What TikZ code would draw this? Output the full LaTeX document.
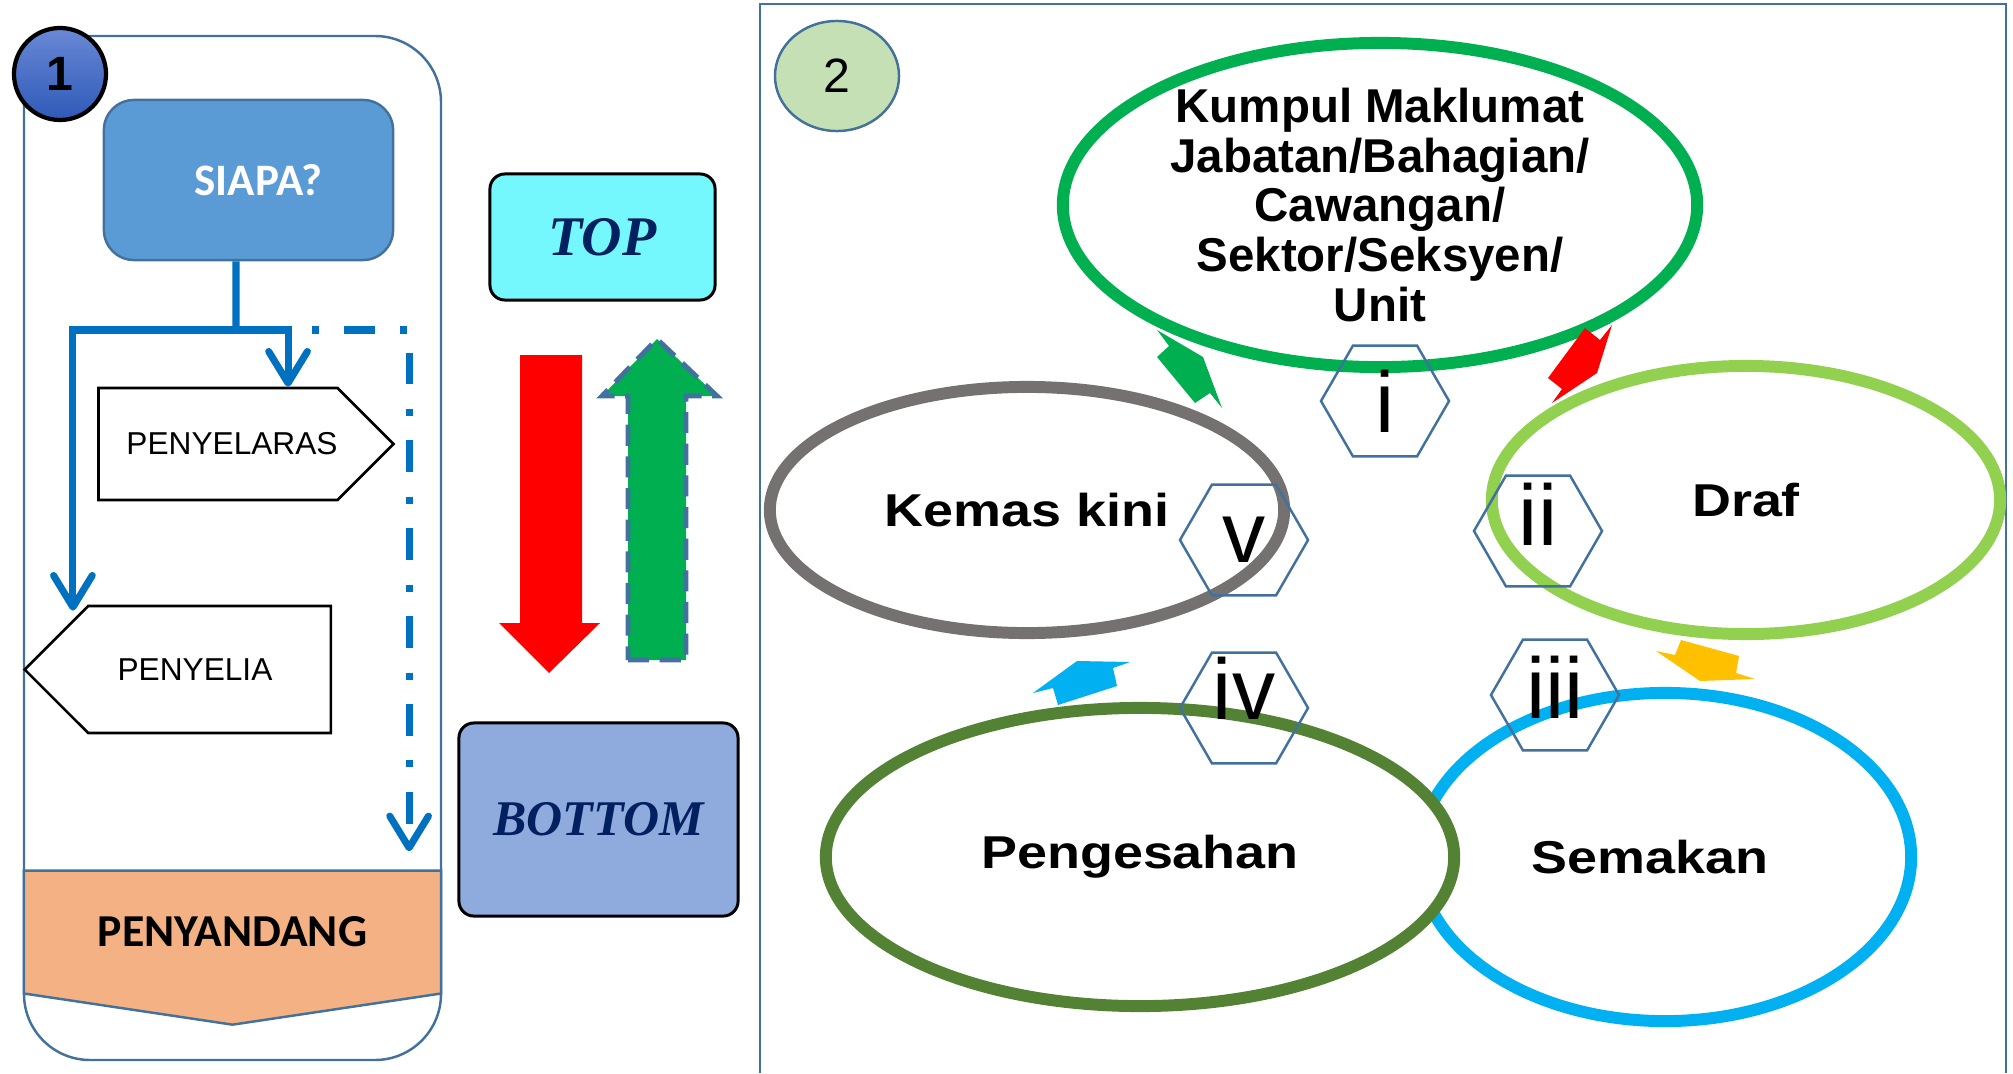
\documentclass[tikz,border=0pt]{standalone}
\usepackage{fontspec}
\setmainfont{Liberation Sans}
\newfontfamily\calibri{Carlito}
\newfontfamily\widesans[FakeStretch=1.17]{Liberation Sans}
\newfontfamily\fancyserif{Liberation Serif}
\usepackage{tikz}
\usetikzlibrary{arrows.meta, positioning, shapes.geometric, shapes.symbols}
\usepackage{xcolor}

\definecolor{frameblue}{HTML}{41719C}
\definecolor{boxblue}{HTML}{5B9BD5}
\definecolor{linkblue}{HTML}{0070C0}
\definecolor{peach}{HTML}{F4B183}
\definecolor{topcyan}{HTML}{75F8FD}
\definecolor{bottomblue}{HTML}{8FAADC}
\definecolor{darknavy}{HTML}{002060}
\definecolor{mygreen}{HTML}{00B050}
\definecolor{lightgreen}{HTML}{92D050}
\definecolor{darkgreen}{HTML}{548235}
\definecolor{skyblue}{HTML}{00B0F0}
\definecolor{greyring}{HTML}{767171}
\definecolor{amber}{HTML}{FFC000}
\definecolor{palegreen}{HTML}{C5E0B4}
\definecolor{badgetop}{HTML}{6A88D6}
\definecolor{badgebottom}{HTML}{2E5AB7}

\begin{document}
\begin{tikzpicture}[x=0.01cm, y=-0.01cm,
    link/.style={draw=linkblue, line width=2pt},
    barb/.style={-{Straight Barb[length=9pt,width=11pt,round]}},
    ring/.style={ellipse, line width=3.4pt, fill=white, inner sep=0pt, font=\widesans\bfseries\fontsize{13.1}{14}\selectfont},
    hexa/.style={regular polygon, regular polygon sides=6, draw=frameblue, line width=0.7pt, minimum size=1.28cm, inner sep=0pt, font=\fontsize{24.5}{26}\selectfont},
    role/.style={signal, draw=black, line width=0.75pt, inner sep=0pt, signal pointer angle=90, font=\fontsize{9}{10}\selectfont},
    levelbox/.style={draw=black, line width=0.85pt, rounded corners=0.15cm, inner sep=0pt, text=darknavy, font=\fancyserif\bfseries\itshape\fontsize{14.2}{15}\selectfont}]
    \useasboundingbox (0,0) rectangle (2013,1073);

    % panel 1
    \draw[frameblue, line width=0.7pt, rounded corners=0.66cm] (24,36) rectangle (441,1060);
    \node[signal, signal to=south, signal pointer angle=163, fill=peach, draw=frameblue, line width=0.7pt, minimum width=4.17cm, minimum height=1.43cm, inner sep=0pt, font=\calibri\bfseries\fontsize{13}{14}\selectfont] (penyandang) at (232.5,932) {PENYANDANG};
    \node[rectangle, rounded corners=0.3cm, fill=boxblue, draw=frameblue, line width=0.7pt, minimum width=2.89cm, minimum height=1.6cm, text=white, font=\calibri\bfseries\fontsize{12.8}{14}\selectfont] (siapa) at (248.5,180) {\hspace*{0.2cm}SIAPA?};
    \node[role, signal to=east, minimum width=2.84cm, minimum height=1.12cm] (penyelaras) at (218,444) {\hspace*{0.28cm}PENYELARAS};
    \node[role, signal to=west, minimum width=3.06cm, minimum height=1.27cm] (penyelia) at (209.5,669.5) {\hspace*{-0.29cm}PENYELIA};

    \coordinate (fork) at (236,330);
    \draw[link] ([xshift=-0.125cm]siapa.south) -- (fork);
    \draw[link, barb] (fork) -| ([xshift=-1.365cm, yshift=-0.06cm]penyelia.north);
    \draw[link, barb] (fork) -| ([xshift=0.70cm]penyelaras.north);
    \draw[link, barb, dash pattern=on 2pt off 7pt on 9pt off 7pt] ([xshift=0.76cm]fork) -| ([xshift=1.765cm, yshift=0.18cm]penyandang.north);

    \node[circle, draw=black, line width=1.2pt, top color=badgetop, bottom color=badgebottom, minimum size=0.92cm, inner sep=0pt, font=\bfseries\fontsize{13.7}{14}\selectfont] (one) at (60,74) {1};

    % top and bottom
    \node[levelbox, fill=topcyan, minimum width=2.25cm, minimum height=1.26cm, font=\fancyserif\bfseries\itshape\fontsize{15.9}{16}\selectfont] (top) at (602.5,237) {TOP};
    \node[levelbox, fill=bottomblue, minimum width=2.79cm, minimum height=1.93cm] (bottom) at (598.5,819.5) {BOTTOM};
    \fill[red] (520,355) -- (582,355) -- (582,623) -- (600,623) -- (549,673) -- (499,623) -- (520,623) -- cycle;
    \filldraw[fill=mygreen, draw=frameblue, line width=1.4pt, dash pattern=on 6pt off 3pt] (628,660) -- (686,660) -- (686,396) -- (717,396) -- (657,339) -- (602,396) -- (628,396) -- cycle;

    % panel 2
    \draw[frameblue, line width=0.7pt] (760,1073) -- (760,4) -- (2006,4) -- (2006,1073);
    \node[ellipse, draw=frameblue, line width=0.7pt, fill=palegreen, minimum width=1.24cm, minimum height=1.1cm, inner sep=0pt, font=\fontsize{13.7}{14}\selectfont] (two) at (837,76) {2};

    \node[ring, draw=mygreen, minimum width=6.34cm, minimum height=3.24cm, inner sep=-0.5cm, align=center, font=\bfseries\fontsize{13.5}{14.15}\selectfont] (collect) at (1380,205) {Kumpul Maklumat\\Jabatan/Bahagian/\\Cawangan/\\Sektor/Seksyen/\\Unit};
    \node[ring, draw=greyring, minimum width=5.14cm, minimum height=2.46cm] (update) at (1027,510) {Kemas kini};
    \node[ring, draw=lightgreen, minimum width=5.08cm, minimum height=2.68cm] (draft) at (1746,500) {Draf};
    \node[ring, draw=skyblue, minimum width=4.92cm, minimum height=3.28cm] (review) at (1665,857) {\hspace*{-0.3cm}Semakan};
    \node[ring, draw=darkgreen, minimum width=6.28cm, minimum height=2.98cm] (approve) at (1140,857) {Pengesahan};

    \fill[mygreen] (1157,330) -- (1169,346) -- (1157,357) -- (1195,403) -- (1210,393) -- (1222,408) -- (1203,357) -- cycle;
    \fill[red] (1585,328) -- (1600,340) -- (1612,325) -- (1597,373) -- (1552,403) -- (1562,389) -- (1548,378) -- cycle;
    \fill[amber] (1656,651) -- (1675,655) -- (1681,640) -- (1739,656) -- (1736,673) -- (1755,679) -- (1700,681) -- cycle;
    \fill[skyblue] (1033,693) -- (1077,661) -- (1130,662) -- (1113,668) -- (1117,686) -- (1058,705) -- (1053,688) -- cycle;

    \node[hexa] (s1) at (1385,401) {i};
    \node[hexa] (s2) at (1538,531) {\raisebox{0.17cm}[\height][0pt]{ii}};
    \node[hexa] (s3) at (1555,695) {\raisebox{0.08cm}[\height][0pt]{iii}};
    \node[hexa] (s4) at (1244,708) {\raisebox{0.2cm}[\height][0pt]{iv}};
    \node[hexa] (s5) at (1244,540) {v};
\end{tikzpicture}
\end{document}
